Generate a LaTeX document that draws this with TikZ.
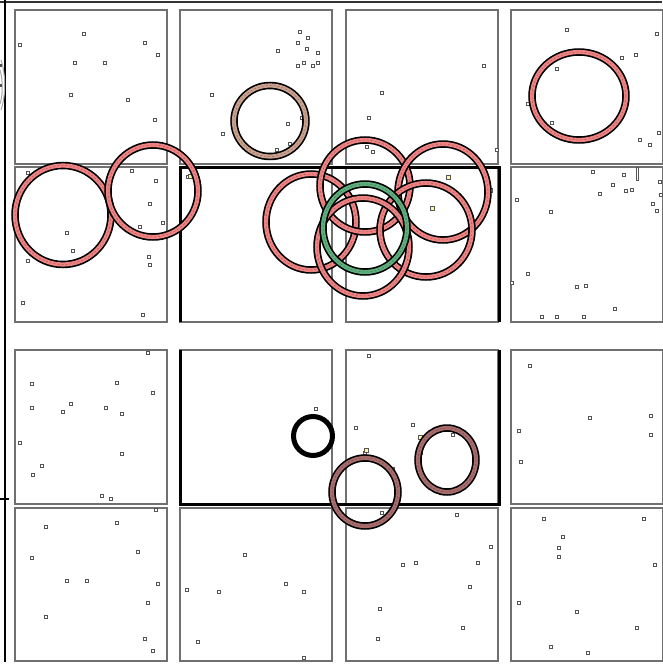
\documentclass[tikz,border=0pt]{standalone}
\usepackage{xcolor}
\definecolor{panelgray}{HTML}{707070}
\definecolor{ringred}{HTML}{EE8282}
\definecolor{ringbrown}{HTML}{C9A08E}
\definecolor{ringrose}{HTML}{A86C6C}
\definecolor{ringgreen}{HTML}{5EAE7C}
\definecolor{dotgray}{HTML}{555555}
\tikzset{
  panel/.style={draw=panelgray, line width=1.4pt},
  hilite/.style={draw=black, line width=3pt},
  dotbox/.style={draw=dotgray, line width=0.8pt, fill=white},
  dotyel/.style={draw=dotgray, line width=0.8pt, fill=yellow!40},
}
\newcommand\myring[5]{%
  \draw[black, line width=7.5pt] (#1,#2) ellipse [x radius=#3, y radius=#4];
  \draw[#5, line width=4.2pt] (#1,#2) ellipse [x radius=#3, y radius=#4];
  \draw[#5!70!black, line width=0.5pt, dash pattern=on 2pt off 2pt] (#1,#2) ellipse [x radius=#3, y radius=#4];
}
\begin{document}
\begin{tikzpicture}[x=1pt,y=-1pt]
\useasboundingbox (0,0) rectangle (662,670);
\fill[white] (0,0) rectangle (662,670);
% frame lines
\draw[black!80, line width=2pt] (0,2) -- (662,2);
\draw[black, line width=2.2pt] (5,0) -- (5,662);
\draw[black, line width=2pt] (0,499) -- (9,499);
\draw[gray!70, line width=1pt] (1,60) .. controls (6,75) and (6,95) .. (1,110);
\draw[gray!70, line width=1pt] (0,70) .. controls (3,80) and (3,95) .. (0,104);
\fill[black!70] (0,64) rectangle (2,67);
\fill[black!70] (0,84) rectangle (2,87);
% panels
\foreach \x in {15,180,346,511} {
  \foreach \y/\h in {10/154,167/155,350/154,508/153} {
    \draw[panel] (\x,\y) rectangle ++(152,\h);
  }
}
% highlighted frames
\draw[hilite] (180,322) -- (180,167) -- (499,167) -- (499,322);
\draw[hilite] (180,350) -- (180,504) -- (499,504) -- (499,350);
% scattered small boxes
\foreach \px/\py in {
 84/34,20/45,145/43,158/55,75/63,105/63,71/95,128/100,155/120,
 300/32,308/38,298/43,278/51,307/49,318/53,298/66,304/63,313/66,318/63,212/95,223/134,288/124,290/144,277/150,302/118,
 484/66,382/93,369/118,497/150,373/152,367/147,
 567/30,657/34,622/58,636/55,557/69,528/104,552/123,640/140,650/145,659/133,
 28/173,132/171,156/181,150/204,163/223,140/227,67/233,73/251,28/261,149/257,150/265,23/303,143/315,
 593/172,624/175,660/182,613/185,600/194,626/191,632/190,661/195,653/204,657/211,517/200,551/212,528/274,512/283,577/287,586/286,615/309,542/317,557/317,584/317,
 188/177,
 148/353,32/384,117/383,153/393,71/404,32/408,63/412,106/408,122/414,20/443,122/454,42/466,33/475,102/496,111/499,
 156/510,46/527,117/523,138/552,32/558,67/581,87/581,158/584,148/603,46/617,145/639,153/651,
 316/409,245/555,187/590,219/592,286/584,304/592,198/642,304/658,
 369/356,356/428,413/425,453/435,393/469,365/453,457/515,382/513,491/547,416/563,403/565,478/563,470/587,380/609,463/628,378/639,
 530/366,590/418,651/416,651/435,519/431,521/462,544/519,644/519,563/537,559/548,559/557,655/565,519/603,577/612,637/628,551/647,588/653} {
  \draw[dotbox] (\px-1.6,\py-1.6) rectangle (\px+1.6,\py+1.6);
}
\draw[dotbox] (636,167) rectangle (638,180);
\foreach \px/\py in {432/208,366/450,190/176,448/177,490/190,488/196,420/437,420/452} {
  \draw[dotyel] (\px-2,\py-2) rectangle (\px+2,\py+2);
}
% rings
\myring{270}{121}{36}{35.5}{ringbrown}
\myring{579}{96}{47}{44}{ringred}
\myring{63}{215}{48}{49.5}{ringred}
\myring{153}{191}{45}{46}{ringred}
\myring{311}{222}{45}{48}{ringred}
\myring{365}{186}{45}{46}{ringred}
\myring{443}{192}{45}{48}{ringred}
\myring{426}{230}{46}{47}{ringred}
\myring{363}{247}{46}{49}{ringred}
\myring{365}{228}{42}{44}{ringgreen}
\myring{447}{460}{29}{32}{ringrose}
\myring{365}{492}{33}{34}{ringrose}
\draw[black, line width=5pt] (313,436) circle [radius=19.5];
\end{tikzpicture}
\end{document}
